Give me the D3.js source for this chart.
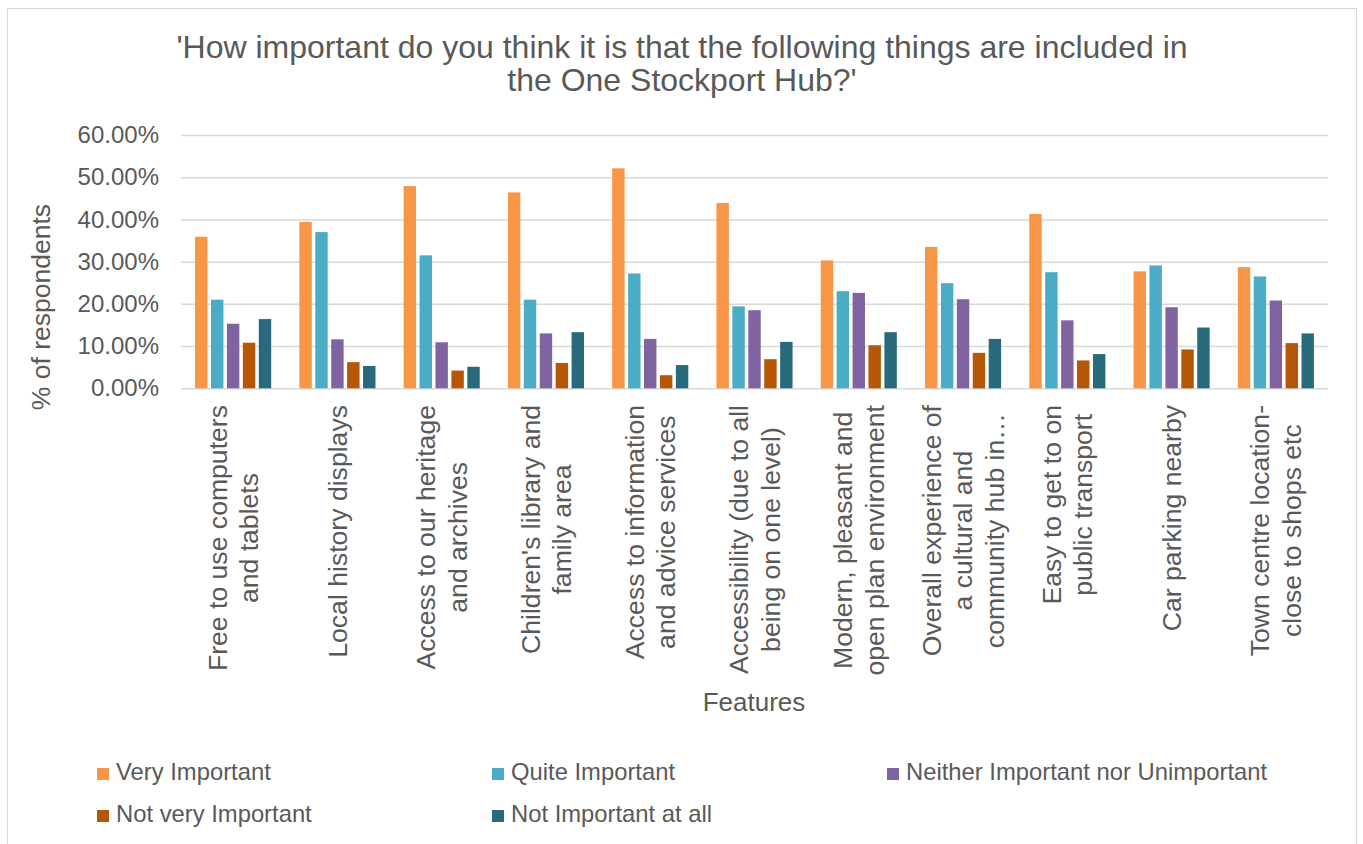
<!DOCTYPE html>
<html>
<head>
<meta charset="utf-8">
<script src="https://cdn.jsdelivr.net/npm/d3@7"></script>
<style>
  body { margin: 0; background: #fff; }
  text { font-family: "Liberation Sans", Arial, sans-serif; fill: #595959; }
</style>
</head>
<body>
<svg id="chart" width="1363" height="844"></svg>
<script>
// Survey answers per feature, % of respondents
const categories = [
  ["Free to use computers", "and tablets"],
  ["Local history displays"],
  ["Access to our heritage", "and archives"],
  ["Children's library and", "family area"],
  ["Access to information", "and advice services"],
  ["Accessibility (due to all", "being on one level)"],
  ["Modern, pleasant and", "open plan environment"],
  ["Overall experience of", "a cultural and", "community hub in…"],
  ["Easy to get to on", "public transport"],
  ["Car parking nearby"],
  ["Town centre location-", "close to shops etc"]
]
const seriesNames = ["Very Important", "Quite Important", "Neither Important nor Unimportant",
  "Not very Important", "Not Important at all"]
const veryImportant  = [35.9, 39.4, 47.9, 46.4, 52.1, 43.9, 30.3, 33.5, 41.3, 27.7, 28.7]
const quiteImportant = [21.0, 37.0, 31.5, 21.0, 27.2, 19.4, 23.0, 24.9, 27.5, 29.1, 26.5]
const neither        = [15.3, 11.6, 10.9, 13.0, 11.7, 18.5, 22.6, 21.1, 16.1, 19.2, 20.8]
const notVery        = [10.8, 6.2, 4.2, 6.0, 3.1, 6.9, 10.2, 8.4, 6.6, 9.2, 10.7]
const notAtAll       = [16.4, 5.3, 5.1, 13.3, 5.5, 11.0, 13.3, 11.7, 8.1, 14.4, 13.0]
const yTicks = [0, 10, 20, 30, 40, 50, 60]

const seriesValues = [veryImportant, quiteImportant, neither, notVery, notAtAll]
const colors = ["#F79646", "#4BACC6", "#8064A2", "#B65708", "#276A7C"]

const svg = d3.select("#chart")

// chart frame
svg.append("rect")
  .attr("x", 7.5).attr("y", 8.5).attr("width", 1349).attr("height", 845)
  .attr("fill", "none").attr("stroke", "#d9d9d9")

const plot = { left: 181, right: 1328, top: 135, bottom: 388.3 }

const catIdx = d3.range(categories.length)
const x0 = d3.scaleBand().domain(catIdx).range([plot.left, plot.right])
  .paddingInner(0.27).paddingOuter(0.135)
const x1 = d3.scaleBand().domain(d3.range(seriesNames.length)).range([0, x0.bandwidth()])
  .paddingInner(0.22)
const y = d3.scaleLinear().domain([0, 60]).range([plot.bottom, plot.top])

// gridlines + tick labels
const yAxis = svg.append("g")
  .attr("transform", `translate(${plot.left},0)`)
  .call(d3.axisLeft(y).tickValues(yTicks).tickSize(-(plot.right - plot.left))
    .tickFormat(d => d.toFixed(2) + "%").tickPadding(22))
yAxis.select(".domain").remove()
yAxis.selectAll(".tick line").attr("stroke", "#d9d9d9").attr("stroke-width", 1.5)
yAxis.selectAll(".tick text")
  .style("font-family", '"Liberation Sans", Arial, sans-serif')
  .style("font-size", "24px").attr("fill", "#595959")

// bars
const groups = svg.append("g").selectAll("g")
  .data(catIdx)
  .join("g")
  .attr("transform", i => `translate(${x0(i)},0)`)

groups.selectAll("rect")
  .data(i => seriesValues.map((vals, s) => ({ s: s, v: vals[i] })))
  .join("rect")
  .attr("x", d => x1(d.s))
  .attr("width", x1.bandwidth())
  .attr("y", d => y(d.v))
  .attr("height", d => y(0) - y(d.v))
  .attr("fill", d => colors[d.s])

// rotated category labels, lines centred on each other, block hanging from the axis
const lineH = 31.5
svg.append("g").selectAll("g")
  .data(catIdx)
  .join("g")
  .each(function (i) {
    const g = d3.select(this)
    const lines = categories[i]
    const cx = x0(i) + x0.bandwidth() / 2
    const texts = lines.map((t, k) => g.append("text")
      .attr("transform", `translate(${cx + (k - (lines.length - 1) / 2) * lineH},405) rotate(-90)`)
      .attr("dy", "0.35em")
      .style("font-size", "26.6px")
      .text(t))
    const maxW = d3.max(texts, t => t.node().getComputedTextLength())
    texts.forEach(t => t.attr("text-anchor", "middle").attr("x", -maxW / 2))
  })

// title
const title = svg.append("text").attr("text-anchor", "middle").style("font-size", "32px")
title.append("tspan").attr("x", 682).attr("y", 58)
  .text("'How important do you think it is that the following things are included in")
title.append("tspan").attr("x", 682).attr("y", 91).text("the One Stockport Hub?'")

// axis titles
svg.append("text").attr("text-anchor", "middle").style("font-size", "26px")
  .attr("x", 754).attr("y", 711).text("Features")
svg.append("text").attr("text-anchor", "middle").style("font-size", "26.5px")
  .attr("transform", "translate(50,307) rotate(-90)").text("% of respondents")

// legend
const legend = svg.append("g").selectAll("g")
  .data(seriesNames)
  .join("g")
  .attr("transform", (d, i) => `translate(${97 + (i % 3) * 395},${768 + Math.floor(i / 3) * 42})`)
legend.append("rect").attr("width", 12).attr("height", 12).attr("fill", (d, i) => colors[i])
legend.append("text").attr("x", 19).attr("y", 12).style("font-size", "23.8px").text(d => d)
</script>
</body>
</html>
